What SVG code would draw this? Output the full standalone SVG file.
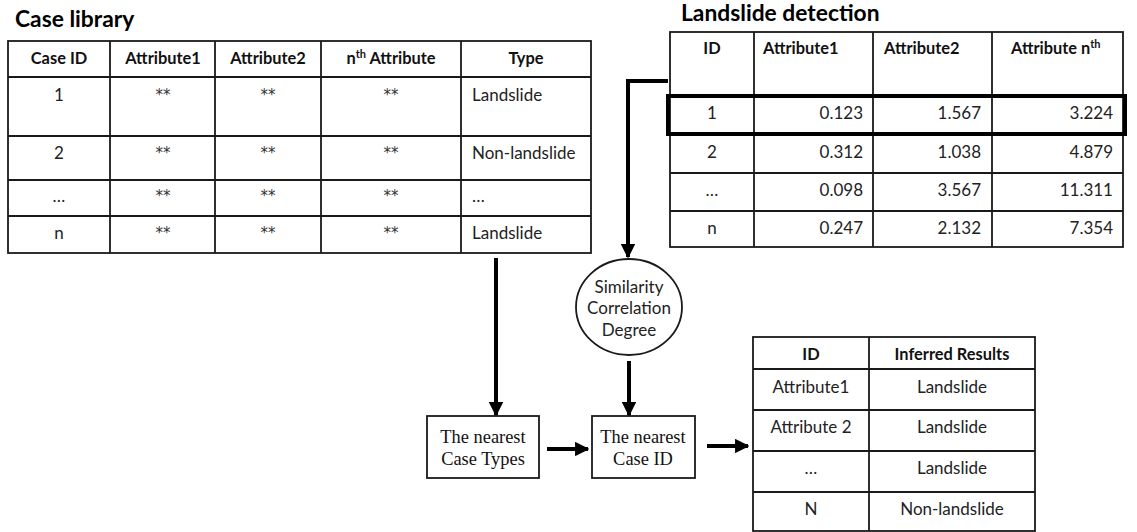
<svg xmlns="http://www.w3.org/2000/svg" width="1137" height="532" viewBox="0 0 1137 532">
  <style>
    .grid { stroke: #1a1a1a; stroke-width: 1.8; fill: none; }
    .title { font-family: Lato, "Open Sans", sans-serif; font-weight: bold; font-size: 22.8px; fill: #000; }
    .th { font-family: Lato, "Open Sans", sans-serif; font-weight: bold; font-size: 16.4px; fill: #111; }
    .td { font-family: Lato, "Open Sans", sans-serif; font-size: 17px; fill: #222; }
    .ast { font-family: "DejaVu Sans", sans-serif; font-size: 15px; fill: #333; text-anchor: middle; }
    .serif { font-family: "Liberation Serif", "Times New Roman", serif; font-size: 18.4px; fill: #111; }
    .c { text-anchor: middle; }
    .r { text-anchor: end; }
    .sup { font-size: 11px; }
    .conn { stroke: #000; stroke-width: 4; fill: none; }
    .box { fill: #fff; stroke: #1a1a1a; stroke-width: 1.8; }
  </style>
  <defs>
    <marker id="arrow" viewBox="0 0 10 10" refX="9" refY="5" markerWidth="3.6" markerHeight="3.6" orient="auto" markerUnits="strokeWidth">
      <path d="M0,0 L10,5 L0,10 Z" fill="#000"/>
    </marker>
  </defs>
  <rect width="1137" height="532" fill="#fff"/>

  <!-- Case library table -->
  <g id="case-library">
    <text class="title" x="15" y="27">Case library</text>
    <rect class="grid" x="8" y="41" width="583" height="212"/>
    <path class="grid" d="M110,41V253 M215,41V253 M321,41V253 M461,41V253 M8,77H591 M8,136H591 M8,180H591 M8,216H591"/>
    <text class="th c" x="59" y="64">Case ID</text>
    <text class="th c" x="163" y="64">Attribute1</text>
    <text class="th c" x="268" y="64">Attribute2</text>
    <text class="th c" x="391" y="64">n<tspan class="sup" baseline-shift="super">th</tspan> Attribute</text>
    <text class="th c" x="526" y="64">Type</text>

    <text class="td c" x="59" y="101">1</text>
    <text class="ast" x="163" y="100">**</text>
    <text class="ast" x="268" y="100">**</text>
    <text class="ast" x="391" y="100">**</text>
    <text class="td" x="472" y="101">Landslide</text>

    <text class="td c" x="59" y="159">2</text>
    <text class="ast" x="163" y="158">**</text>
    <text class="ast" x="268" y="158">**</text>
    <text class="ast" x="391" y="158">**</text>
    <text class="td" x="472" y="159">Non-landslide</text>

    <text class="td c" x="59" y="202">…</text>
    <text class="ast" x="163" y="201">**</text>
    <text class="ast" x="268" y="201">**</text>
    <text class="ast" x="391" y="201">**</text>
    <text class="td" x="472" y="202">…</text>

    <text class="td c" x="59" y="239">n</text>
    <text class="ast" x="163" y="238">**</text>
    <text class="ast" x="268" y="238">**</text>
    <text class="ast" x="391" y="238">**</text>
    <text class="td" x="472" y="239">Landslide</text>
  </g>

  <!-- Landslide detection table -->
  <g id="landslide-detection">
    <text class="title" x="681" y="21">Landslide detection</text>
    <rect class="grid" x="670" y="32" width="453" height="215"/>
    <path class="grid" d="M754,32V247 M873,32V247 M992,32V247 M670,96H1123 M670,134H1123 M670,173H1123 M670,211H1123"/>
    <text class="th c" x="712" y="54">ID</text>
    <text class="th" x="763" y="54">Attribute1</text>
    <text class="th" x="884" y="54">Attribute2</text>
    <text class="th" x="1011" y="54">Attribute n<tspan class="sup" baseline-shift="super">th</tspan></text>

    <text class="td c" x="712" y="119">1</text>
    <text class="td r" x="863" y="119">0.123</text>
    <text class="td r" x="981" y="119">1.567</text>
    <text class="td r" x="1113" y="119">3.224</text>

    <text class="td c" x="712" y="158">2</text>
    <text class="td r" x="863" y="158">0.312</text>
    <text class="td r" x="981" y="158">1.038</text>
    <text class="td r" x="1113" y="158">4.879</text>

    <text class="td c" x="712" y="196">…</text>
    <text class="td r" x="863" y="196">0.098</text>
    <text class="td r" x="981" y="196">3.567</text>
    <text class="td r" x="1113" y="196">11.311</text>

    <text class="td c" x="712" y="234">n</text>
    <text class="td r" x="863" y="234">0.247</text>
    <text class="td r" x="981" y="234">2.132</text>
    <text class="td r" x="1113" y="234">7.354</text>

    <!-- highlighted record -->
    <rect x="668" y="96" width="457" height="38" fill="none" stroke="#000" stroke-width="4"/>
  </g>

  <!-- Similarity node -->
  <g id="similarity">
    <ellipse cx="629" cy="307" rx="53" ry="48" class="box"/>
    <text class="td c" x="629" y="293">Similarity</text>
    <text class="td c" x="629" y="314">Correlation</text>
    <text class="td c" x="629" y="336">Degree</text>
  </g>

  <!-- Nearest case types -->
  <g id="nearest-types">
    <rect class="box" x="427" y="416" width="112" height="62"/>
    <text class="serif c" x="483" y="443">The nearest</text>
    <text class="serif c" x="483" y="465">Case Types</text>
  </g>

  <!-- Nearest case ID -->
  <g id="nearest-id">
    <rect class="box" x="592" y="416" width="103" height="62"/>
    <text class="serif c" x="643" y="443">The nearest</text>
    <text class="serif c" x="643" y="465">Case ID</text>
  </g>

  <!-- Inferred results table -->
  <g id="inferred-results">
    <rect class="grid" x="753" y="337" width="282" height="194"/>
    <path class="grid" d="M869,337V531 M753,369H1035 M753,410H1035 M753,451H1035 M753,492H1035"/>
    <text class="th c" x="811" y="360">ID</text>
    <text class="th c" x="952" y="360">Inferred Results</text>
    <text class="td c" x="811" y="393">Attribute1</text>
    <text class="td c" x="952" y="393">Landslide</text>
    <text class="td c" x="811" y="433">Attribute 2</text>
    <text class="td c" x="952" y="433">Landslide</text>
    <text class="td c" x="811" y="474">…</text>
    <text class="td c" x="952" y="474">Landslide</text>
    <text class="td c" x="811" y="515">N</text>
    <text class="td c" x="952" y="515">Non-landslide</text>
  </g>

  <!-- Connectors -->
  <g id="connectors">
    <path class="conn" d="M668,81H628V257" marker-end="url(#arrow)"/>
    <path class="conn" d="M496,258V415" marker-end="url(#arrow)"/>
    <path class="conn" d="M629,361V415" marker-end="url(#arrow)"/>
    <path class="conn" d="M547,449H588" marker-end="url(#arrow)"/>
    <path class="conn" d="M707,446H748" marker-end="url(#arrow)"/>
  </g>
</svg>
